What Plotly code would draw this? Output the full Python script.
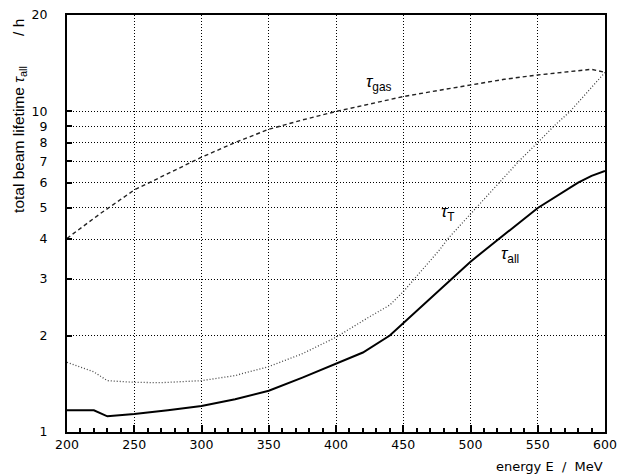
import math
import plotly.graph_objects as go

# ---- data ----
E_all = [200, 220, 230, 250, 275, 300, 325, 350, 375, 400, 420, 440, 460, 486, 500, 521, 550, 580, 590, 600]
tau_all = [1.169, 1.169, 1.119, 1.138, 1.17, 1.205, 1.265, 1.345, 1.478, 1.63, 1.77, 2.0, 2.39, 3.0, 3.40, 4.0, 5.0, 6.0, 6.3, 6.52]

E_T = [200, 220, 230, 250, 270, 300, 325, 350, 375, 400, 425, 440, 450, 477, 483, 504, 521, 536, 550, 562, 574, 600]
tau_T = [1.65, 1.54, 1.446, 1.429, 1.425, 1.446, 1.50, 1.60, 1.755, 1.975, 2.29, 2.49, 2.74, 3.70, 4.0, 5.0, 6.0, 7.0, 8.0, 9.0, 10.0, 13.25]

E_gas = [200, 225, 250, 275, 300, 325, 350, 375, 400, 425, 450, 475, 500, 525, 550, 575, 590, 600]
tau_gas = [4.02, 4.81, 5.69, 6.41, 7.2, 8.0, 8.8, 9.41, 10.0, 10.55, 11.13, 11.61, 12.1, 12.6, 13.0, 13.31, 13.54, 13.25]

x_ticks = [200, 250, 300, 350, 400, 450, 500, 550, 600]
y_ticks = [1, 2, 3, 4, 5, 6, 7, 8, 9, 10, 20]
y_ticktext = [str(v) for v in y_ticks]

FONT = "DejaVu Sans, Liberation Sans, Arial, sans-serif"
TFONT = "Liberation Sans, Arial, Helvetica, sans-serif"
GRID_DASH = "1px,2px"

fig = go.Figure()
fig.add_trace(go.Scatter(x=E_gas, y=tau_gas, mode="lines",
                         line=dict(color="#222", width=1.4, dash="4px,3px"), showlegend=False))
fig.add_trace(go.Scatter(x=E_T, y=tau_T, mode="lines",
                         line=dict(color="#444", width=1.3, dash="1px,2px"), showlegend=False))
fig.add_trace(go.Scatter(x=E_all, y=tau_all, mode="lines",
                         line=dict(color="black", width=2), showlegend=False))

fig.update_xaxes(range=[200, 600], tickvals=x_ticks, ticks="inside", ticklen=7, tickwidth=1.5,
                 tickcolor="black", showline=True, linecolor="black", linewidth=2, mirror=True,
                 showgrid=True, gridcolor="black", gridwidth=1, griddash=GRID_DASH,
                 minor=dict(dtick=10, ticks="inside", ticklen=4, tickcolor="black", tickwidth=1.5, showgrid=False),
                 ticklabeloverflow="allow",
                 tickfont=dict(size=12.5, color="black", family=FONT), zeroline=False, automargin=False)
fig.update_yaxes(type="log", range=[0, 1.30103], tickvals=y_ticks, ticktext=y_ticktext,
                 ticks="inside", ticklen=5, tickwidth=1.5, tickcolor="black",
                 showline=True, linecolor="black", linewidth=2, mirror=True,
                 showgrid=True, gridcolor="black", gridwidth=1, griddash=GRID_DASH,
                 ticklabelstandoff=15, ticklabeloverflow="allow",
                 tickfont=dict(size=12.5, color="black", family=FONT), zeroline=False, automargin=False)

anns = [
    dict(x=420.8, y=12.27, text="<i>τ</i><sub>gas</sub>"),
    dict(x=476.6, y=4.82, text="<i>τ</i><sub>T</sub>"),
    dict(x=521.2, y=3.57, text="<i>τ</i><sub>all</sub>"),
]
for a in anns:
    fig.add_annotation(xref="x", yref="y", x=a["x"], y=math.log10(a["y"]),
                       text=a["text"], xanchor="left", yanchor="middle",
                       showarrow=False, font=dict(size=17, color="black", family=TFONT))

fig.add_annotation(xref="paper", yref="paper", x=-0.0874, y=0.758,
                   text="total beam lifetime <i>τ</i><sub>all</sub>&nbsp;&nbsp;&nbsp;&nbsp;&nbsp;&nbsp;&nbsp;/ h",
                   textangle=-90, xanchor="center", yanchor="middle", showarrow=False,
                   font=dict(size=15.5, color="black", family=TFONT))
fig.add_annotation(xref="paper", yref="paper", x=1.0, y=-0.0839,
                   text="energy&nbsp;E&nbsp;&nbsp;/&nbsp;&nbsp;MeV", xanchor="right", yanchor="middle",
                   showarrow=False, font=dict(size=13, color="black", family=FONT))

fig.update_layout(width=619, height=475, margin=dict(l=67, r=14, t=15, b=43, autoexpand=False),
                  paper_bgcolor="white", plot_bgcolor="white",
                  font=dict(family=FONT, color="black"))

# remove the default page margin so the figure sits at the window's top-left corner
fig.write_html("out.html", config={"displayModeBar": False},
               post_script="document.body.style.margin='0';document.body.style.overflow='hidden';")
